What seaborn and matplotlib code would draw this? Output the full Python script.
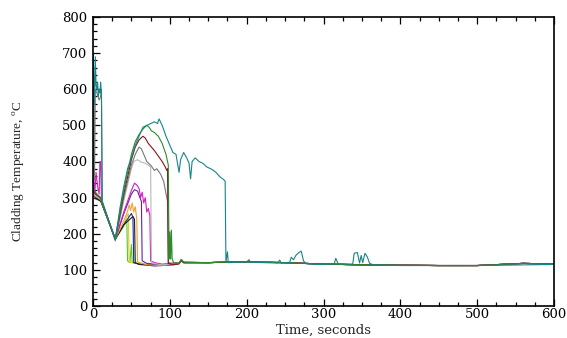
import matplotlib
matplotlib.use("Agg")
import matplotlib.pyplot as plt
from matplotlib.ticker import MultipleLocator
import seaborn as sns
import pandas as pd

# ---------------- data ----------------
tail_t = [150, 180, 200, 250, 300, 350, 400, 450, 500, 530, 560, 600]
tail_T = [120, 122, 122, 120, 116, 114, 113, 112, 112, 115, 118, 116]

lime_t = [0, 5, 10, 12, 20, 29, 40, 44, 45, 48, 50, 51, 60, 80, 100, 112, 115, 118]
lime_T = [300, 295, 292, 280, 235, 185, 220, 238, 125, 120, 170, 120, 116, 113, 114, 118, 125, 120]

yellow_t = [0, 5, 10, 12, 20, 29, 40, 44, 46, 47, 60, 80, 100, 112, 115, 118]
yellow_T = [305, 300, 295, 282, 236, 185, 225, 248, 255, 122, 117, 114, 115, 118, 126, 120]

blue_t = [0, 5, 10, 12, 20, 29, 40, 48, 50, 52, 53, 60, 80, 100, 112, 115, 118]
blue_T = [305, 298, 292, 281, 236, 185, 225, 250, 256, 245, 120, 116, 113, 115, 118, 126, 120]

black_t = [0, 5, 10, 12, 20, 29, 40, 48, 52, 54, 55, 60, 80, 100, 112, 115, 118]
black_T = [300, 296, 290, 280, 235, 185, 225, 240, 248, 240, 120, 115, 111, 113, 117, 125, 120]

orange_t = [0, 5, 10, 12, 20, 29, 40, 45, 47, 49, 51, 53, 55, 57, 58, 70, 90, 100, 112, 115, 118]
orange_T = [310, 302, 295, 283, 237, 185, 235, 262, 280, 265, 285, 260, 275, 240, 122, 114, 112, 114, 118, 127, 120]

purple_t = [0, 5, 10, 12, 20, 29, 40, 50, 54, 58, 61, 63, 64, 70, 90, 100, 112, 115, 118]
purple_T = [315, 305, 298, 284, 238, 185, 255, 310, 322, 318, 300, 290, 125, 118, 114, 116, 119, 128, 121]

magenta_t = [0, 1, 2, 4, 6, 8, 9, 10, 11, 12, 20, 29, 40, 50, 54, 57, 60, 62, 64, 66,
             68, 70, 72, 74, 75, 80, 90, 100, 112, 115, 118]
magenta_T = [330, 380, 300, 370, 330, 310, 400, 400, 290, 285, 238, 185, 260, 320, 340, 335,
             325, 300, 315, 285, 300, 260, 270, 250, 125, 120, 116, 118, 120, 129, 121]

lgray_t = [0, 5, 10, 12, 20, 29, 40, 50, 53, 58, 63, 68, 72, 75, 76, 80, 90, 100, 112, 115, 118]
lgray_T = [310, 303, 296, 284, 237, 185, 290, 380, 400, 405, 398, 395, 390, 385, 120, 117, 114, 116, 119, 127, 121]

dgray_t = [0, 1, 2, 3, 5, 8, 10, 11, 12, 20, 29, 40, 50, 55, 60, 63, 66, 70, 75, 80,
           83, 88, 92, 96, 97, 98, 105, 112, 115, 118]
dgray_T = [300, 600, 350, 600, 590, 570, 580, 600, 290, 236, 180, 300, 390, 420, 440, 435,
           420, 400, 390, 375, 380, 365, 345, 300, 290, 120, 117, 119, 128, 121]

dred_t = [0, 5, 10, 12, 20, 29, 40, 50, 55, 60, 65, 68, 72, 76, 80, 85, 90, 94, 96, 97,
          98, 105, 112, 115, 118]
dred_T = [320, 308, 298, 285, 238, 185, 310, 405, 440, 460, 470, 465, 450, 440, 430, 415,
          400, 385, 375, 380, 118, 114, 117, 126, 120]

green_t = [0, 5, 10, 12, 20, 29, 40, 50, 55, 60, 65, 70, 73, 76, 80, 85, 90, 95, 97, 98,
           99, 100, 101, 102, 103, 105, 112, 115, 118]
green_T = [325, 310, 300, 286, 238, 185, 320, 420, 455, 475, 490, 500, 495, 485, 480, 470,
           450, 420, 400, 390, 130, 205, 130, 210, 130, 120, 118, 128, 121]

teal_t = [0, 0.5, 1, 2, 3, 4, 5, 6, 7, 8, 9, 10, 11, 12, 20, 29, 35, 40, 45, 50, 55, 60,
          65, 70, 75, 80, 84, 86, 90, 95, 100, 104, 108, 112, 114, 118, 122, 125, 127, 129,
          133, 138, 143, 148, 155, 160, 165, 170, 172, 173, 175, 176, 200, 203, 205, 240,
          243, 245, 256, 258, 261, 264, 268, 271, 274, 277, 300, 314, 316, 319, 338, 340,
          344, 347, 349, 351, 354, 357, 360, 365, 400, 500, 600]
teal_T = [320, 700, 640, 560, 690, 610, 600, 620, 580, 600, 590, 620, 580, 290, 240, 185,
          270, 330, 380, 410, 445, 470, 495, 500, 505, 510, 505, 518, 500, 470, 445, 425,
          420, 370, 405, 425, 410, 395, 352, 400, 410, 400, 395, 385, 378, 370, 358, 350,
          345, 122, 150, 120, 122, 128, 121, 119, 127, 119, 121, 135, 128, 140, 148, 152,
          125, 117, 115, 117, 132, 117, 116, 146, 148, 119, 140, 120, 146, 136, 118, 114,
          112, 112, 115]

series = {
    "lime": (lime_t, lime_T, True),
    "yellow": (yellow_t, yellow_T, True),
    "blue": (blue_t, blue_T, True),
    "black": (black_t, black_T, True),
    "orange": (orange_t, orange_T, True),
    "purple": (purple_t, purple_T, True),
    "magenta": (magenta_t, magenta_T, True),
    "lgray": (lgray_t, lgray_T, True),
    "dgray": (dgray_t, dgray_T, True),
    "dred": (dred_t, dred_T, True),
    "green": (green_t, green_T, True),
    "teal": (teal_t, teal_T, False),
}
colors = {
    "lime": "#5cc81e", "yellow": "#d6d21a", "blue": "#1a2f9c", "black": "#202020",
    "orange": "#f0a030", "purple": "#6a1fa0", "magenta": "#d21ec0", "lgray": "#b8b8b8",
    "dgray": "#787878", "dred": "#8a1414", "green": "#2a8c2a", "teal": "#178585",
}

rows = []
for name, (ts, Ts, add_tail) in series.items():
    tt = list(ts) + (tail_t if add_tail else [])
    TT = list(Ts) + (tail_T if add_tail else [])
    for i, (a, b) in enumerate(zip(tt, TT)):
        rows.append({"series": name, "order": i, "t": a, "T": b})
df = pd.DataFrame(rows)

# ---------------- plot ----------------
sns.set_style("ticks")
plt.rcParams["mathtext.fontset"] = "custom"
plt.rcParams["mathtext.rm"] = "Liberation Serif"

fig = plt.figure(figsize=(5.67, 3.38), dpi=100)
ax = fig.add_axes([93 / 567, 1 - 306 / 338, (554 - 93) / 567, (306 - 17) / 338])

sns.lineplot(data=df, x="t", y="T", hue="series", hue_order=list(series.keys()),
             palette=colors, sort=False, estimator=None, legend=False,
             linewidth=0.8, ax=ax)

ax.set_xlim(0, 600)
ax.set_ylim(0, 800)
ax.xaxis.set_major_locator(MultipleLocator(100))
ax.xaxis.set_minor_locator(MultipleLocator(25))
ax.yaxis.set_major_locator(MultipleLocator(100))
ax.yaxis.set_minor_locator(MultipleLocator(20))
ax.tick_params(which="both", direction="in", top=True, right=False, width=0.9,
               colors="black", labelsize=9.5)
ax.tick_params(which="major", length=5)
ax.tick_params(which="minor", length=3)
ax.tick_params(axis="x", pad=1.5)
ax.tick_params(axis="y", pad=4)
for lab in ax.get_xticklabels() + ax.get_yticklabels():
    lab.set_fontfamily("DejaVu Serif")
for sp in ax.spines.values():
    sp.set_visible(True)
    sp.set_linewidth(1.2)
    sp.set_color("black")

ax.set_xlabel("Time, seconds", fontfamily="DejaVu Serif", fontsize=9.5)
ax.set_ylabel(r"Cladding Temperature, $^{\mathrm{o}}$C", fontfamily="Liberation Serif",
              fontsize=9.5)
ax.xaxis.set_label_coords(0.5, -0.06)
ax.yaxis.set_label_coords(-0.143, 0.467)

fig.savefig("out.png", dpi=100)
